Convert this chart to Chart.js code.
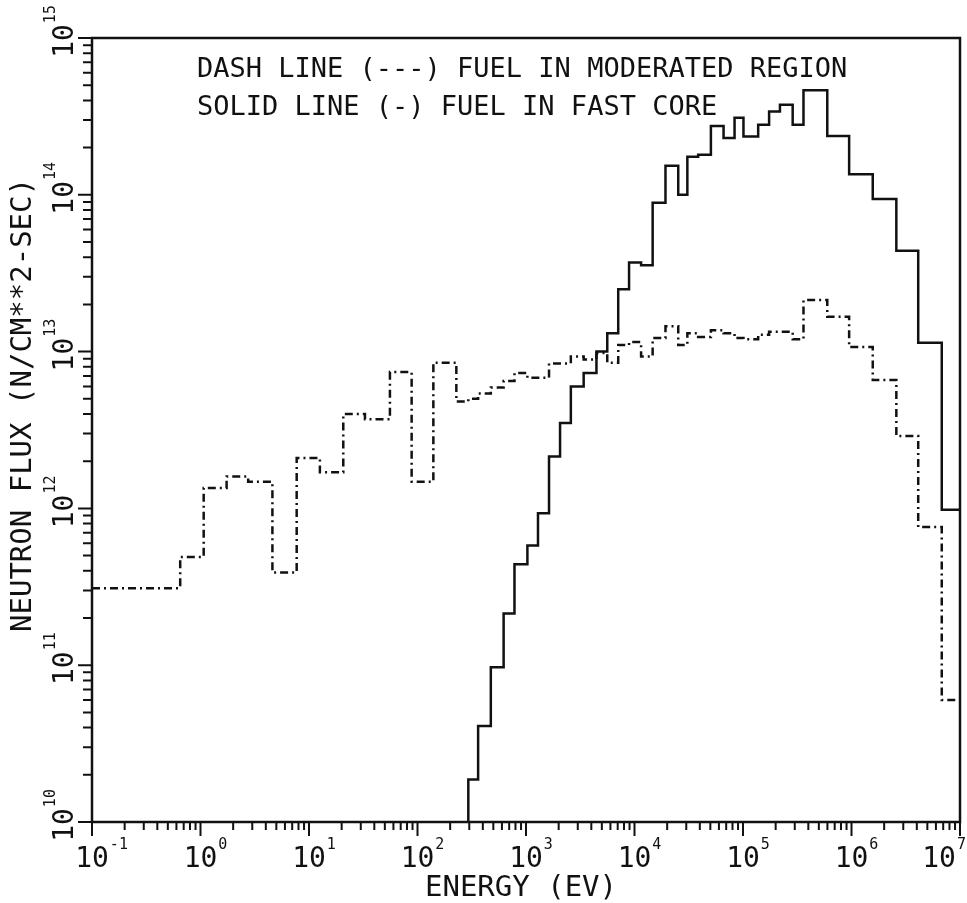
<!DOCTYPE html>
<html>
<head>
<meta charset="utf-8">
<script src="https://cdn.jsdelivr.net/npm/chart.js@4.4.0/dist/chart.umd.min.js"></script>
<style>
  body { margin: 0; background: #fff; }
  #wrap { width: 967px; height: 903px; }
</style>
</head>
<body>
<div id="wrap"><canvas id="fluxChart" width="967" height="903"></canvas></div>
<script>
// energy group boundaries (eV), 50 groups
const energyEdges = [
  0.1, 0.65, 1.07, 1.74, 2.75, 4.6, 7.7, 12.6, 20.7, 32.8, 55.7, 88.3, 140,
  228, 294, 362, 474, 622, 783, 1030, 1290, 1630, 2060, 2590, 3400, 4460,
  5610, 7080, 8910, 11500, 14700, 19300, 25300, 30700, 38600, 50600, 66200,
  83600, 1.01e5, 1.38e5, 1.74e5, 2.19e5, 2.87e5, 3.61e5, 5.98e5, 9.51e5,
  1.57e6, 2.59e6, 4.12e6, 6.79e6, 1e7
];

// group flux, fuel in moderated region (dash line)
const fluxModerated = [
  3.1e11, 4.9e11, 1.35e12, 1.6e12, 1.48e12, 3.9e11, 2.1e12, 1.7e12, 4.0e12, 3.7e12,
  7.4e12, 1.48e12, 8.5e12, 4.8e12, 5.0e12, 5.4e12, 5.9e12, 6.5e12, 7.3e12, 6.8e12,
  6.8e12, 8.4e12, 8.4e12, 9.3e12, 8.9e12, 9.8e12, 8.5e12, 1.1e13, 1.15e13, 9.3e12,
  1.22e13, 1.45e13, 1.1e13, 1.31e13, 1.24e13, 1.37e13, 1.31e13, 1.22e13, 1.2e13, 1.28e13,
  1.34e13, 1.34e13, 1.2e13, 2.13e13, 1.67e13, 1.07e13, 6.6e12, 2.9e12, 7.6e11, 6.0e10
];

// group flux, fuel in fast core (solid line); low groups fall below 1e10
const fluxFastCore = [
  null, null, null, null, null, null, null, null, null, null, null, null, null,
  5e9, 1.87e10, 4.1e10, 9.7e10, 2.14e11, 4.4e11, 5.8e11, 9.3e11, 2.14e12, 3.5e12,
  6.0e12, 7.3e12, 1.0e13, 1.31e13, 2.5e13, 3.7e13, 3.55e13, 8.9e13, 1.53e14,
  1.0e14, 1.75e14, 1.8e14, 2.75e14, 2.3e14, 3.1e14, 2.35e14, 2.8e14, 3.4e14,
  3.75e14, 2.8e14, 4.65e14, 2.37e14, 1.35e14, 9.4e13, 4.4e13, 1.14e13, 9.8e11
];

const xDecades = [-1, 0, 1, 2, 3, 4, 5, 6, 7];
const yDecades = [10, 11, 12, 13, 14, 15];
const legendLines = [
  'DASH LINE (---) FUEL IN MODERATED REGION',
  'SOLID LINE (-) FUEL IN FAST CORE'
];
const xTitle = 'ENERGY (EV)';
const yTitle = 'NEUTRON FLUX (N/CM**2-SEC)';

const FONT = "'DejaVu Sans Mono', monospace";
const INK = '#111';

// histogram: one point per lower edge, plus the closing upper edge
function stepPoints(values) {
  const pts = values.map((v, i) => ({ x: energyEdges[i], y: v }));
  pts.push({ x: energyEdges[energyEdges.length - 1], y: values[values.length - 1] });
  return pts;
}

const plotFrame = {
  id: 'plotFrame',
  afterDatasetsDraw(chart) {
    const { ctx, chartArea: a, scales: { x, y } } = chart;
    ctx.save();
    ctx.strokeStyle = INK;
    ctx.fillStyle = INK;

    // frame
    ctx.lineWidth = 2.5;
    ctx.strokeRect(a.left, a.top, a.right - a.left, a.bottom - a.top);

    // tick marks, outside bottom and left edges
    ctx.lineWidth = 2;
    ctx.beginPath();
    const xLast = xDecades[xDecades.length - 1];
    for (const d of xDecades) {
      for (let m = 1; m <= 9; m++) {
        if (d === xLast && m > 1) break;
        const px = x.getPixelForValue(m * Math.pow(10, d));
        ctx.moveTo(px, a.bottom);
        ctx.lineTo(px, a.bottom + (m === 1 ? 14 : 8));
      }
    }
    const yLast = yDecades[yDecades.length - 1];
    for (const d of yDecades) {
      for (let m = 1; m <= 9; m++) {
        if (d === yLast && m > 1) break;
        const py = y.getPixelForValue(m * Math.pow(10, d));
        ctx.moveTo(a.left, py);
        ctx.lineTo(a.left - (m === 1 ? 14 : 9), py);
      }
    }
    ctx.stroke();

    // x tick labels: 10 with raised exponent
    ctx.textBaseline = 'alphabetic';
    for (const d of xDecades) {
      const px = x.getPixelForValue(Math.pow(10, d));
      ctx.font = '28px ' + FONT;
      const w = ctx.measureText('10').width;
      ctx.font = '15px ' + FONT;
      const we = ctx.measureText(String(d)).width;
      let left = px - w / 2;
      if (left + w + 1 + we > chart.width - 1) left = chart.width - 1 - we - 1 - w;
      ctx.textAlign = 'left';
      ctx.font = '28px ' + FONT;
      ctx.fillText('10', left, 867);
      ctx.font = '15px ' + FONT;
      ctx.fillText(String(d), left + w + 1, 849);
    }

    // y tick labels, turned to read upward
    for (const d of yDecades) {
      const py = y.getPixelForValue(Math.pow(10, d)) + 3;
      ctx.save();
      ctx.translate(73, py);
      ctx.rotate(-Math.PI / 2);
      ctx.font = '28px ' + FONT;
      const w = ctx.measureText('10').width;
      ctx.textAlign = 'center';
      ctx.fillText('10', 0, 0);
      ctx.font = '15px ' + FONT;
      ctx.textAlign = 'left';
      ctx.fillText(String(d), w / 2 + 1, -18);
      ctx.restore();
    }

    // axis titles
    ctx.font = '29px ' + FONT;
    ctx.textAlign = 'center';
    ctx.fillText(xTitle, (a.left + a.right) / 2 - 5, 896);
    ctx.save();
    ctx.translate(31, 405);
    ctx.rotate(-Math.PI / 2);
    ctx.fillText(yTitle, 0, 0);
    ctx.restore();

    // legend text inside the plot
    ctx.font = '27px ' + FONT;
    ctx.textAlign = 'left';
    ctx.fillText(legendLines[0], 197, 77);
    ctx.fillText(legendLines[1], 197, 115);

    ctx.restore();
  }
};

new Chart(document.getElementById('fluxChart').getContext('2d'), {
  type: 'line',
  data: {
    datasets: [
      {
        label: 'Fuel in moderated region',
        data: stepPoints(fluxModerated),
        stepped: 'before',
        borderColor: INK,
        borderWidth: 2.5,
        borderDash: [8, 4, 2, 4],
        pointRadius: 0,
        fill: false
      },
      {
        label: 'Fuel in fast core',
        data: stepPoints(fluxFastCore),
        stepped: 'before',
        borderColor: INK,
        borderWidth: 2.5,
        pointRadius: 0,
        fill: false
      }
    ]
  },
  options: {
    responsive: false,
    animation: false,
    devicePixelRatio: 1,
    events: [],
    layout: { padding: { left: 92, right: 7, top: 38, bottom: 81 } },
    plugins: { legend: { display: false }, tooltip: { enabled: false } },
    scales: {
      x: { type: 'logarithmic', min: 0.1, max: 1e7, display: false },
      y: { type: 'logarithmic', min: 1e10, max: 1e15, display: false }
    }
  },
  plugins: [plotFrame]
});
</script>
</body>
</html>
